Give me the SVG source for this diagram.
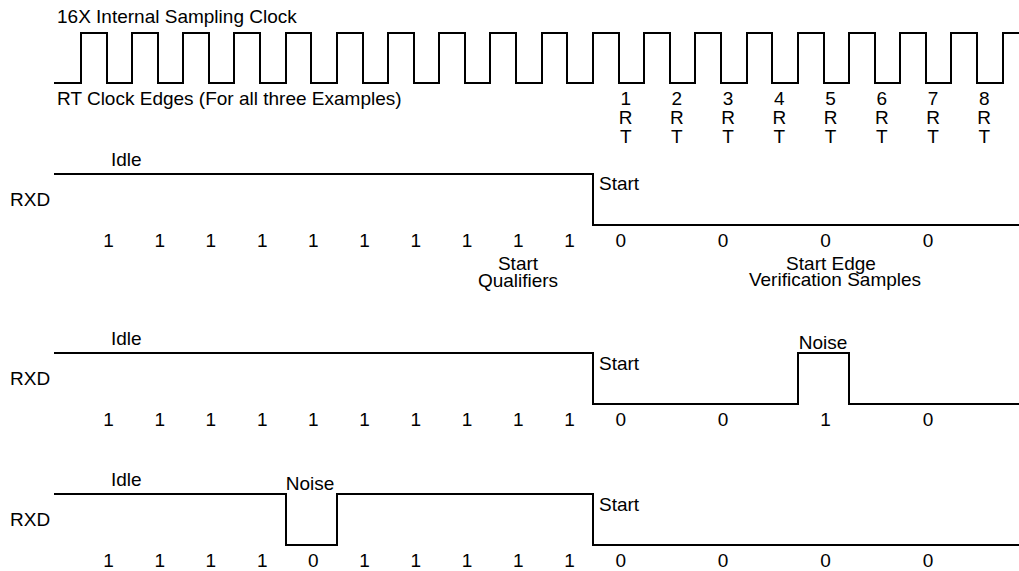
<svg xmlns="http://www.w3.org/2000/svg" width="1019" height="571" viewBox="0 0 1019 571">
<style>
text{font-family:"Liberation Sans",Arial,sans-serif;font-size:19px;fill:#000}
.c{text-anchor:middle}
.w{fill:none;stroke:#000;stroke-width:2;stroke-linejoin:miter;stroke-linecap:square}
</style>
<rect width="1019" height="571" fill="#fff"/>
<g id="clock">
<text x="57" y="23">16X Internal Sampling Clock</text>
<path class="w" d="M55,83 H81 V33 H107 V83 H132 V33 H158 V83 H183 V33 H209 V83 H234 V33 H260 V83 H286 V33 H311 V83 H337 V33 H363 V83 H388 V33 H414 V83 H439 V33 H465 V83 H490 V33 H516 V83 H542 V33 H567 V83 H593 V33 H619 V83 H644 V33 H670 V83 H695 V33 H721 V83 H747 V33 H772 V83 H798 V33 H824 V83 H849 V33 H875 V83 H900 V33 H926 V83 H951 V33 H977 V83 H1003 V33 H1020"/>
<text x="57" y="105">RT Clock Edges (For all three Examples)</text>
</g>
<g id="rt-labels" class="c">
<text x="625.7" y="105">1</text><text x="625.7" y="124">R</text><text x="625.7" y="143">T</text>
<text x="676.9" y="105">2</text><text x="676.9" y="124">R</text><text x="676.9" y="143">T</text>
<text x="728.1" y="105">3</text><text x="728.1" y="124">R</text><text x="728.1" y="143">T</text>
<text x="779.4" y="105">4</text><text x="779.4" y="124">R</text><text x="779.4" y="143">T</text>
<text x="830.6" y="105">5</text><text x="830.6" y="124">R</text><text x="830.6" y="143">T</text>
<text x="881.8" y="105">6</text><text x="881.8" y="124">R</text><text x="881.8" y="143">T</text>
<text x="933" y="105">7</text><text x="933" y="124">R</text><text x="933" y="143">T</text>
<text x="984.2" y="105">8</text><text x="984.2" y="124">R</text><text x="984.2" y="143">T</text>
</g>
<g id="example1">
<text x="111" y="166">Idle</text>
<text x="10" y="206">RXD</text>
<text x="599" y="190">Start</text>
<path class="w" d="M55,174 H593 V225 H1020"/>
<g class="c">
<text x="108.5" y="247">1</text><text x="159.7" y="247">1</text><text x="210.9" y="247">1</text><text x="262.2" y="247">1</text><text x="313.4" y="247">1</text><text x="364.6" y="247">1</text><text x="415.8" y="247">1</text><text x="467" y="247">1</text><text x="518.3" y="247">1</text><text x="569.5" y="247">1</text>
<text x="620.7" y="247">0</text><text x="723.1" y="247">0</text><text x="825.6" y="247">0</text><text x="928" y="247">0</text>
<text x="518" y="270">Start</text><text x="518" y="287">Qualifiers</text>
<text x="831" y="270">Start Edge</text><text x="835" y="286">Verification Samples</text>
</g>
</g>
<g id="example2">
<text x="111" y="345">Idle</text>
<text x="10" y="385">RXD</text>
<text x="599" y="370">Start</text>
<text x="823" y="349" class="c">Noise</text>
<path class="w" d="M55,353 H593 V404 H798 V353 H849 V404 H1020"/>
<g class="c">
<text x="108.5" y="426">1</text><text x="159.7" y="426">1</text><text x="210.9" y="426">1</text><text x="262.2" y="426">1</text><text x="313.4" y="426">1</text><text x="364.6" y="426">1</text><text x="415.8" y="426">1</text><text x="467" y="426">1</text><text x="518.3" y="426">1</text><text x="569.5" y="426">1</text>
<text x="620.7" y="426">0</text><text x="723.1" y="426">0</text><text x="825.6" y="426">1</text><text x="928" y="426">0</text>
</g>
</g>
<g id="example3">
<text x="111" y="486">Idle</text>
<text x="10" y="526">RXD</text>
<text x="599" y="511">Start</text>
<text x="310" y="490" class="c">Noise</text>
<path class="w" d="M55,494 H286 V545 H337 V494 H593 V545 H1020"/>
<g class="c">
<text x="108.5" y="567">1</text><text x="159.7" y="567">1</text><text x="210.9" y="567">1</text><text x="262.2" y="567">1</text><text x="313.4" y="567">0</text><text x="364.6" y="567">1</text><text x="415.8" y="567">1</text><text x="467" y="567">1</text><text x="518.3" y="567">1</text><text x="569.5" y="567">1</text>
<text x="620.7" y="567">0</text><text x="723.1" y="567">0</text><text x="825.6" y="567">0</text><text x="928" y="567">0</text>
</g>
</g>
</svg>
